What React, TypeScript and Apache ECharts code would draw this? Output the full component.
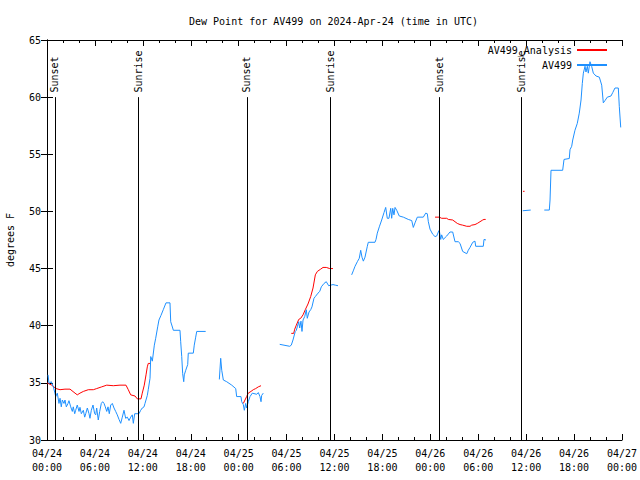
import React, { useEffect, useRef } from "react";
import * as echarts from "echarts";

// x values are hours since 2024-04-24 00:00 UTC
const xTickLabels = [
  "04/24\n00:00", "04/24\n06:00", "04/24\n12:00", "04/24\n18:00",
  "04/25\n00:00", "04/25\n06:00", "04/25\n12:00", "04/25\n18:00",
  "04/26\n00:00", "04/26\n06:00", "04/26\n12:00", "04/26\n18:00",
  "04/27\n00:00",
];

const sunEventHours = [1.0, 11.4, 25.04, 35.44, 49.09, 59.36];
const sunEventLabels = ["Sunset", "Sunrise", "Sunset", "Sunrise", "Sunset", "Sunrise"];

// AV499 observations (null = gap)
const av499Hours = [
  0.13, 0.25, 0.54, 0.79, 0.96, 1.09, 1.29, 1.5, 1.63, 1.79, 1.92, 2.13, 2.25, 2.42, 2.63, 2.75,
  2.97, 3.17, 3.29, 3.47, 3.59, 3.79, 4.01, 4.13, 4.3, 4.55, 4.72, 4.85, 5.05, 5.26, 5.38, 5.55,
  5.76, 5.97, 6.1, 6.22, 6.42, 6.6, 6.8, 6.97, 7.14, 7.3, 7.48, 7.64, 7.8, 7.98, 8.18, 8.39,
  8.6, 8.8, 9.02, 9.23, 9.43, 9.64, 9.85, 10.06, 10.27, 10.48, 10.68, 10.81, 10.98, 11.52, 11.73, 11.93,
  12.15, 12.27, 12.56, 12.68, 12.9, 12.99, 13.19, 13.44, 13.61, 13.86, 14.02, 14.27, 14.56, 14.9, 15.4, 15.49,
  15.74, 15.82, 16.65, 16.74, 16.87, 16.99, 17.12, 17.19, 17.37, 17.62, 17.69, 18.32, 18.44, 18.62, 18.75, 19.87,
  20.7,
  21.58, 21.75, 21.88, 22.08, 22.5, 23.13, 23.63, 23.75, 24.29, 24.38, 24.58, 24.71, 24.88, 25.0, 25.2, 25.42,
  25.71, 26.26, 26.46, 26.67, 26.8, 26.88, 27.08,
  28.0,
  29.14, 30.39, 30.59, 30.8, 31.09, 31.22, 31.34, 31.52, 31.64, 31.8, 31.93, 32.06, 32.27, 32.47, 32.59, 32.81,
  33.02, 33.18, 33.43, 33.6, 33.93, 34.15, 34.35, 34.69, 34.97, 35.27, 35.53, 35.81, 36.1, 36.44,
  37.3,
  38.15, 38.35, 38.57, 38.86, 39.1, 39.28, 39.44, 39.61, 39.82, 40.11, 40.23, 41.07, 41.2, 41.36, 41.61, 41.91,
  42.2, 42.41, 42.61, 42.82, 43.04, 43.16, 43.29, 43.45, 43.58, 43.79, 44.11, 44.62, 45.24, 45.67, 45.87, 46.08,
  46.37, 47.12, 47.42, 47.62, 47.75, 47.96, 48.3, 48.59, 48.8, 49.0, 49.12, 49.3, 49.42, 49.62, 50.05, 50.46,
  50.8, 51.09, 51.5, 51.72, 52.05, 52.56, 52.75, 52.97, 53.31, 53.59, 53.68, 54.63, 54.72, 54.97,
  57.0,
  59.57, 60.57,
  61.5,
  62.27, 62.9, 62.99, 63.11, 64.57, 64.74, 65.4, 65.49, 65.7, 65.83, 66.11, 66.4, 66.65, 66.87, 67.03, 67.16,
  67.37, 67.49, 67.66, 67.78, 67.99, 68.2, 68.41, 68.75, 69.16, 69.46, 69.66, 69.87, 70.16, 70.62, 70.84, 71.12,
  71.54, 71.66, 71.84,
];
const av499Values = [
  35.7, 34.96, 35.1, 34.66, 34.2, 33.8, 34.1, 33.2, 33.65, 32.9, 33.5, 33.2, 33.5, 32.9, 33.2, 33.44,
  32.9, 32.5, 32.9, 32.3, 32.6, 33.06, 32.5, 32.86, 32.3, 32.6, 32.0, 32.3, 32.8, 32.3, 31.9, 32.6,
  33.06, 32.3, 32.2, 32.8, 31.75, 32.5, 33.2, 33.35, 33.2, 32.9, 32.5, 32.9, 32.3, 33.06, 33.2, 32.8,
  32.5, 32.2, 31.8, 31.46, 32.0, 32.6, 31.9, 32.0, 31.7, 32.0, 32.2, 31.46, 32.3, 32.3, 32.6, 32.8,
  32.9, 33.2, 33.9, 34.4, 35.4, 37.3, 36.9, 38.3, 38.9, 39.9, 40.5, 40.9, 41.4, 42.0, 42.0, 40.35,
  39.8, 39.6, 39.6, 38.6, 37.3, 35.8, 35.1, 35.7, 36.1, 36.6, 37.6, 37.6, 38.3, 39.0, 39.5, 39.5,
  null,
  35.3, 37.15, 36.1, 35.25, 35.1, 34.8, 34.5, 33.8, 33.8, 33.35, 33.1, 32.6, 33.2, 32.8, 33.35, 33.8,
  34.1, 34.0, 34.15, 33.8, 33.35, 33.9, 34.1,
  null,
  38.37, 38.2, 38.3, 38.75, 39.5, 39.6, 39.9, 40.35, 39.8, 40.4, 39.5, 40.5, 40.8, 41.4, 40.65, 41.2,
  41.4, 41.65, 42.4, 42.55, 42.85, 43.0, 43.4, 43.7, 43.85, 43.5, 43.55, 43.6, 43.55, 43.5,
  null,
  44.45, 44.8, 45.2, 45.6, 45.9, 46.6, 46.0, 45.65, 46.0, 46.95, 47.3, 47.3, 47.55, 48.1, 48.65, 49.25,
  49.9, 50.35, 49.4, 49.4, 50.27, 49.4, 50.27, 49.7, 50.35, 50.1, 49.6, 49.5, 49.3, 49.2, 48.6, 49.0,
  49.5, 49.5, 49.85, 49.8, 49.1, 48.45, 48.0, 47.8, 47.85, 48.2, 48.35, 47.55, 47.95, 47.55, 47.85, 48.2,
  48.2, 47.35, 47.35, 47.2, 46.5, 46.3, 46.6, 46.85, 47.3, 47.4, 46.95, 46.95, 47.55, 47.5,
  null,
  50.06, 50.12,
  null,
  50.12, 50.12, 51.0, 53.6, 53.6, 54.55, 54.63, 55.4, 55.7, 56.25, 57.1, 57.7, 58.6, 59.75, 61.2, 62.1,
  62.7, 62.2, 62.7, 62.1, 63.1, 62.7, 62.1, 61.85, 61.75, 61.05, 59.5, 59.7, 60.0, 60.1, 60.4, 60.8,
  60.8, 59.2, 57.35,
];

// AV499 analysis (null = gap)
const analysisHours = [
  0.0, 0.59, 1.13, 1.63, 2.25, 2.88, 3.51, 3.79, 4.13, 4.55, 5.17, 5.8, 6.22, 6.85, 7.48, 8.3,
  9.14, 9.89, 10.18, 10.48, 11.02, 11.31, 11.77, 11.93, 12.18, 12.4, 12.56, 12.68, 12.99,
  18.0,
  24.58, 24.79, 25.0, 25.2, 25.54, 25.83, 26.13, 26.46, 26.8,
  28.0,
  30.59, 30.89, 31.02, 31.22, 31.52, 31.77, 32.06, 32.34, 32.68, 33.02, 33.31, 33.6, 33.85, 34.27, 34.56, 34.97,
  35.4, 35.81,
  42.0,
  48.59, 49.12, 49.42, 50.05, 50.25, 50.8, 51.09, 51.38, 51.72, 52.05, 52.56, 52.97, 53.18, 53.59, 53.88, 54.22,
  54.56, 54.72, 54.93,
  57.0,
  59.6, 59.8,
];
const analysisValues = [
  35.0, 34.8, 34.5, 34.4, 34.45, 34.45, 34.1, 33.95, 34.1, 34.25, 34.4, 34.4, 34.5, 34.65, 34.8, 34.75,
  34.8, 34.8, 34.4, 33.95, 33.85, 33.6, 33.6, 34.1, 34.8, 35.7, 36.4, 36.7, 36.7,
  null,
  33.2, 33.5, 33.8, 34.1, 34.25, 34.4, 34.5, 34.65, 34.75,
  null,
  39.33, 39.33, 39.7, 40.05, 40.55, 40.65, 40.95, 41.4, 41.9, 42.55, 43.3, 44.45, 44.75, 44.95, 45.1, 45.1,
  45.0, 45.0,
  null,
  49.5, 49.5, 49.4, 49.4, 49.3, 49.25, 49.1, 48.95, 48.85, 48.8, 48.7, 48.7, 48.8, 48.85, 48.95, 49.1,
  49.25, 49.3, 49.3,
  null,
  51.76, 51.76,
];

const FONT = "'DejaVu Sans Mono', 'Liberation Mono', monospace";

export default function App() {
  const ref = useRef<HTMLDivElement>(null);
  useEffect(() => {
    if (!ref.current) return;
    const chart = echarts.init(ref.current, null, { renderer: "svg" });
    const zip = (xs: number[], ys: (number | null)[]) =>
      xs.map((x, i) => [x, ys[i] === null ? "-" : ys[i]]);
    const axisLine = { show: true, lineStyle: { color: "#000", width: 1 } };
    const mirrorX = {
      type: "value" as const,
      min: 0,
      max: 72,
      interval: 6,
      axisLine,
      axisTick: { show: true, inside: true, length: 6, lineStyle: { color: "#000" } },
      minorTick: { show: true, splitNumber: 3, length: 3, lineStyle: { color: "#000" } },
      splitLine: { show: false },
    };
    const mirrorY = {
      type: "value" as const,
      min: 30,
      max: 65,
      interval: 5,
      axisLine,
      axisTick: { show: true, inside: true, length: 6, lineStyle: { color: "#000" } },
      splitLine: { show: false },
    };
    chart.setOption({
      animation: false,
      backgroundColor: "#fff",
      textStyle: { fontFamily: FONT, fontSize: 10, color: "#000" },
      title: {
        text: "Dew Point for AV499 on 2024-Apr-24 (time in UTC)",
        left: 184,
        top: 11,
        textStyle: { fontFamily: FONT, fontSize: 10, fontWeight: "normal", color: "#000" },
      },
      legend: {
        orient: "vertical",
        right: 28,
        top: 39,
        align: "right",
        itemWidth: 30,
        itemHeight: 2,
        itemGap: 3,
        icon: "rect",
        textStyle: { fontFamily: FONT, fontSize: 10, color: "#000", lineHeight: 12 },
        data: ["AV499_Analysis", "AV499"],
      },
      grid: { left: 47, right: 18, top: 40, bottom: 40, outerBoundsMode: "none", containLabel: false },
      xAxis: [
        {
          ...mirrorX,
          position: "bottom",
          axisLabel: {
            show: true,
            margin: 6,
            lineHeight: 14,
            fontFamily: FONT,
            fontSize: 10,
            color: "#000",
            formatter: (v: number) => xTickLabels[Math.round(v / 6)] ?? "",
          },
        },
        { ...mirrorX, position: "top", axisLabel: { show: false } },
      ],
      yAxis: [
        {
          ...mirrorY,
          position: "left",
          name: "degrees F",
          nameLocation: "middle",
          nameGap: 32,
          nameTextStyle: { fontFamily: FONT, fontSize: 10, color: "#000" },
          axisLabel: { show: true, margin: 6, fontFamily: FONT, fontSize: 10, color: "#000" },
        },
        { ...mirrorY, position: "right", axisLabel: { show: false } },
      ],
      series: [
        {
          name: "AV499_Analysis",
          type: "line",
          data: zip(analysisHours, analysisValues),
          showSymbol: false,
          symbol: "none",
          connectNulls: false,
          color: "#ff0000",
          lineStyle: { color: "#ff0000", width: 1 },
          z: 3,
        },
        {
          name: "AV499",
          type: "line",
          data: zip(av499Hours, av499Values),
          showSymbol: false,
          symbol: "none",
          connectNulls: false,
          color: "#1e90ff",
          lineStyle: { color: "#1e90ff", width: 1 },
          z: 4,
        },
        {
          name: "sun",
          type: "scatter",
          symbolSize: 0,
          itemStyle: { opacity: 1, color: "#000" },
          data: sunEventHours.map((h, i) => ({ value: [h, 60.4], name: sunEventLabels[i] })),
          label: {
            show: true,
            position: "inside",
            rotate: 90,
            align: "left",
            verticalAlign: "middle",
            formatter: (p: any) => p.name,
            fontFamily: FONT,
            fontSize: 10,
            color: "#000",
            opacity: 1,
          },
          markLine: {
            silent: true,
            symbol: "none",
            label: { show: false },
            lineStyle: { color: "#000", width: 1, type: "solid", opacity: 1 },
            data: sunEventHours.map((h) => [{ coord: [h, 30] }, { coord: [h, 60.0] }]),
          },
          z: 2,
        },
      ],
    });
    return () => chart.dispose();
  }, []);
  return <div ref={ref} style={{ width: 640, height: 480, position: "absolute", left: 0, top: 0 }} />;
}
